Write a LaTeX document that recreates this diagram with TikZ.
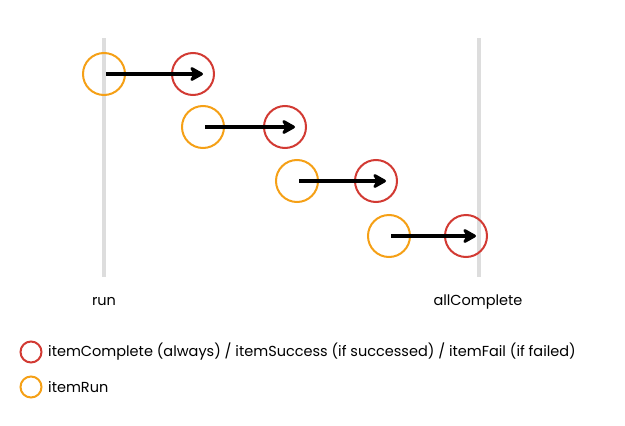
\documentclass[tikz,border=0pt]{standalone}
\usepackage{fontspec}
\setmainfont{Poppins}
\usetikzlibrary{arrows.meta}

\definecolor{runorange}{HTML}{F5A016}
\definecolor{donered}{HTML}{D23A33}
\definecolor{linegray}{HTML}{DDDDDD}

\tikzset{
  runcirc/.style={circle,draw=runorange,line width=2pt,minimum size=42pt,inner sep=0pt},
  donecirc/.style={circle,draw=donered,line width=2pt,minimum size=42pt,inner sep=0pt},
  legcirc/.style={circle,line width=2pt,minimum size=21pt,inner sep=0pt},
  flow/.style={line width=4pt,-{Stealth[length=16pt,width=18pt,inset=5pt,round]}},
  txt/.style={font=\fontsize{14.5}{17}\selectfont,inner sep=0pt}
}

\begin{document}
\begin{tikzpicture}[x=1pt,y=-1pt]
    \useasboundingbox (0,0) rectangle (625,426);

    % time lines
    \draw[linegray,line width=4pt] (104,38) -- (104,277);
    \draw[linegray,line width=4pt] (479,38) -- (479,277);

    % one row per item
    \foreach \i/\xa/\xb/\y in {1/104/193/74,2/203/285/127,3/297/376/181,4/389/466/236}
    {
      \node[runcirc] (run\i) at (\xa,\y) {};
      \node[donecirc] (done\i) at (\xb,\y) {};
      \draw[flow] ([xshift=2pt]run\i.center) -- ([xshift=10pt]done\i.center);
    }

    \node[txt,anchor=base] (runlabel) at (104,305) {run};
    \node[txt,anchor=base] (alllabel) at (478,305) {allComplete};

    % legend
    \node[legcirc,draw=donered] (legdone) at (31,352) {};
    \node[txt,anchor=west] (legdonetext) at (48,352) {itemComplete (always) / itemSuccess (if successed) / itemFail (if failed)};
    \node[legcirc,draw=runorange] (legrun) at (31,387) {};
    \node[txt,anchor=west] (legruntext) at (48,387) {itemRun};
\end{tikzpicture}
\end{document}
